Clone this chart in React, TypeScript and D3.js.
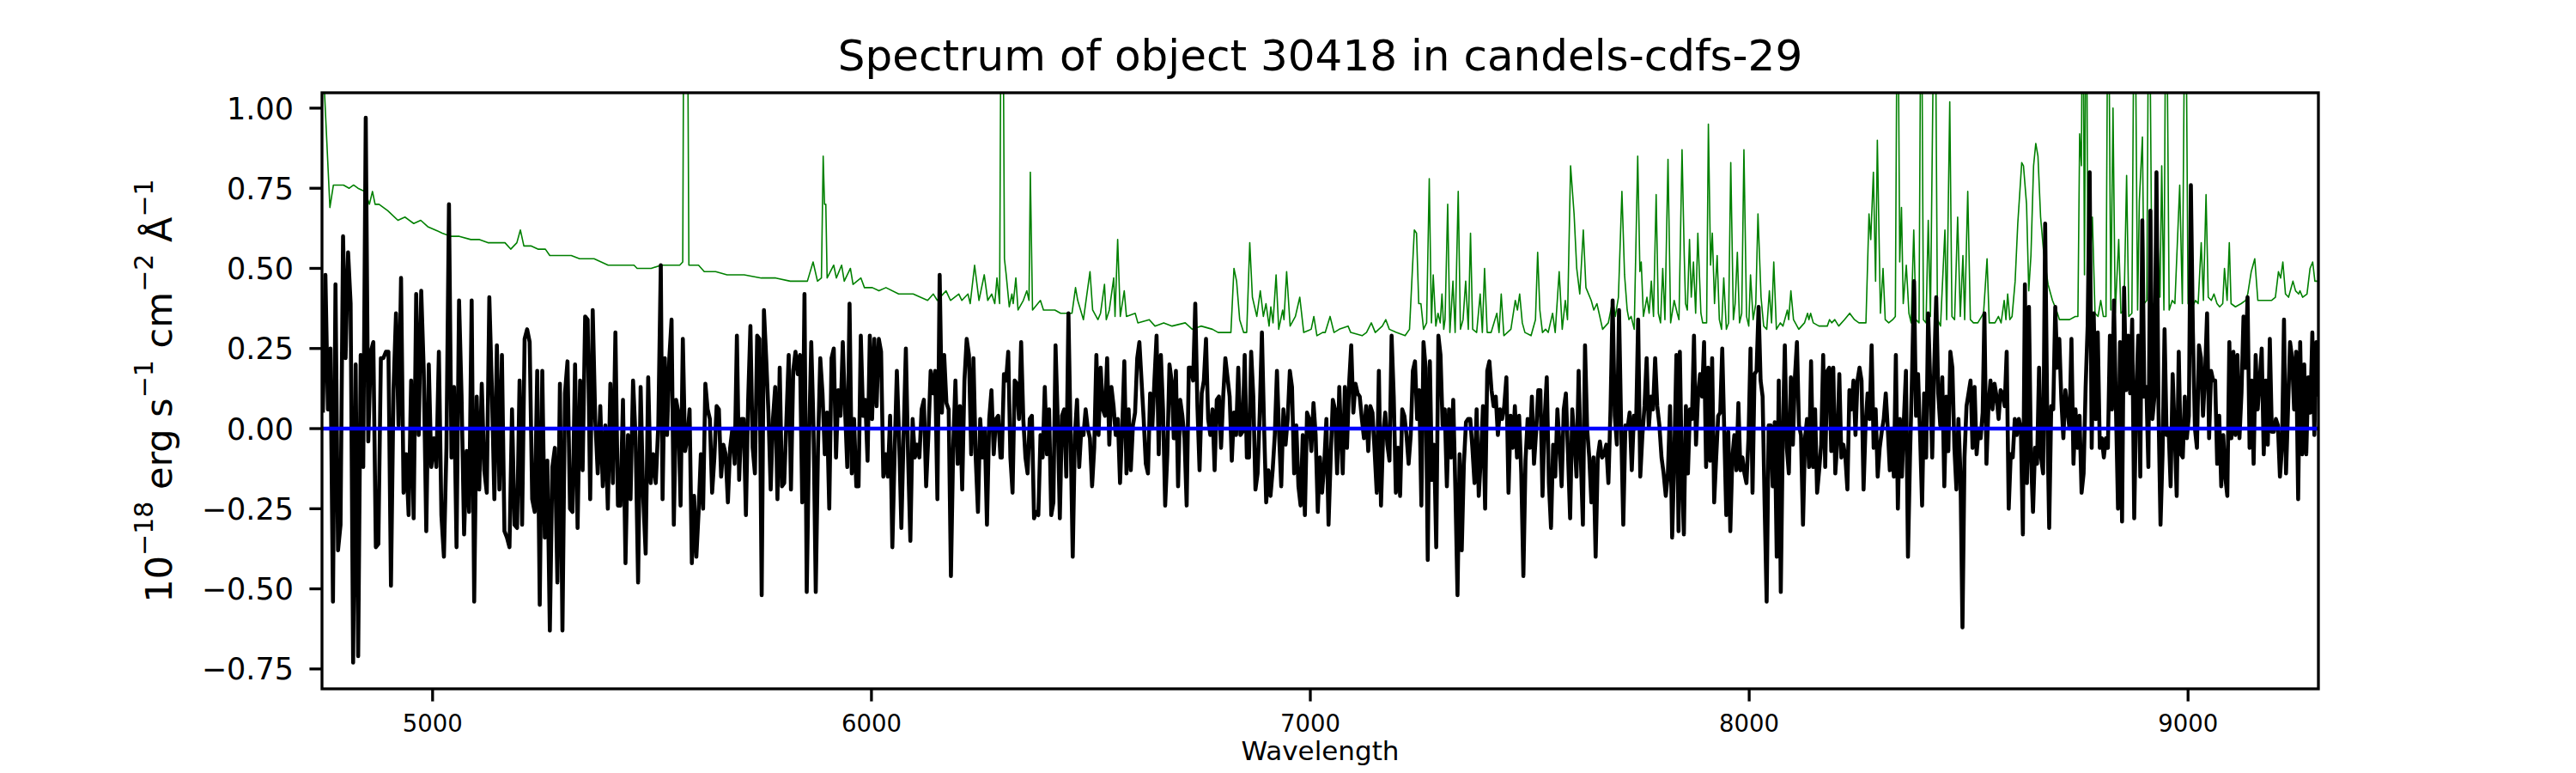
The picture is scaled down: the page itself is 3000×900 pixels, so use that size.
import * as d3 from 'd3'
import { useEffect, useRef } from 'react'

// canvas and plot box
const W = 3000
const H = 900
const plotBox = { left: 375, right: 2700, top: 108, bottom: 802 }

const xDomain = [4748, 9297]
const yDomain = [-0.812, 1.048]
const xTicks = [5000, 6000, 7000, 8000, 9000]
const yTicks = [-0.75, -0.5, -0.25, 0, 0.25, 0.5, 0.75, 1.0]

// observed flux, read in six stretches of wavelength (each stretch evenly sampled)
const fluxSegStart = [4750, 5524, 6297, 7069, 7842, 8536]
const fluxSegEnd = [5520, 6294, 7066, 7839, 8532, 9297]

const fluxA = [
  0.05, 0.48, 0.06, 0.25, -0.54, 0.45, -0.38, -0.3, 0.6, 0.22, 0.55, 0.39, -0.73, 0.2, -0.71, 0.23, -0.12, 0.97,
  -0.04, 0.24, 0.27, -0.37, -0.36, 0.22, 0.22, 0.24, 0.24, -0.49, 0.12, 0.36, 0.01, 0.47, -0.2, -0.08, -0.27, 0.15,
  -0.28, 0.42, -0.02, 0.43, 0.18, -0.32, 0.2, -0.12, -0.03, -0.12, 0.24, -0.27, -0.4, -0.06, 0.7, -0.09, 0.13, -0.37,
  0.4, 0.1, -0.33, -0.07, -0.26, 0.4, -0.54, 0.1, -0.19, 0.14, -0.13, -0.2, 0.41, 0.13, -0.22, 0.26, -0.19, 0.23,
  -0.32, -0.34, -0.37, 0.06, -0.3, -0.31, 0.15, -0.3, 0.28, 0.31, 0.27, -0.22, -0.26, 0.18, -0.55, 0.18, -0.34, -0.1,
  -0.63, -0.12, -0.06, -0.48, 0.14, -0.63, 0.11, 0.21, -0.25, -0.26, 0.2, -0.31, 0.15, -0.13, 0.35, 0.34, -0.22, 0.37,
  0.03, -0.14, 0.07, -0.18, 0.01, -0.25, 0.14, -0.17, 0.3, -0.24, -0.24, 0.09, -0.42, -0.02, -0.22, 0.15, -0.03, -0.48,
  0.13, -0.21, -0.39, 0.16, -0.17, -0.08, -0.17, 0.01, 0.51,
]
const fluxB = [
  -0.22, 0.22, -0.02, 0.22, 0.34, -0.3, 0.09, 0.05, -0.24, 0.28, -0.07, -0.03, 0.06, -0.42, -0.21, -0.4, -0.26, -0.08,
  -0.25, 0.14, 0.06, 0.03, -0.2, -0.09, 0.07, 0.06, -0.15, -0.05, -0.08, -0.23, -0.06, 0.0, -0.11, 0.29, -0.16, 0.03,
  0.03, -0.27, 0.09, 0.32, -0.06, -0.14, 0.29, 0.28, -0.52, 0.37, 0.22, 0.05, -0.19, 0.03, 0.13, -0.22, 0.19, -0.18,
  -0.17, 0.03, 0.23, -0.19, 0.18, 0.24, 0.17, 0.23, -0.23, 0.42, -0.51, -0.05, 0.27, 0.01, -0.51, -0.06, 0.22, 0.11,
  -0.08, 0.05, -0.25, 0.22, 0.25, -0.09, 0.12, 0.04, 0.27, 0.06, -0.12, 0.39, -0.14, 0.03, -0.18, -0.18, 0.29, 0.04,
  0.09, -0.1, 0.29, 0.03, 0.28, 0.07, 0.28, 0.24, -0.15, -0.08, -0.15, 0.04, -0.37, -0.08, 0.18, -0.03, -0.31, -0.02,
  0.25, -0.09, -0.35, 0.03, -0.09, -0.05, -0.09, 0.06, 0.09, -0.18, -0.02, 0.18, 0.11, 0.18, -0.22, 0.48, 0.05, 0.23,
  0.08, 0.06, -0.46, -0.06, 0.15, -0.11, 0.07, -0.19, 0.15, 0.28, 0.23, -0.08, 0.22, -0.09, -0.26, 0.03, -0.09, 0.0,
  -0.3, 0.03, 0.12, -0.08, 0.03, 0.04, -0.09,
]
const fluxC = [
  -0.09, 0.17, 0.15, 0.24, -0.09, -0.2, 0.15, 0.14, 0.03, 0.27, 0.03, -0.09, -0.14, 0.03, 0.04, -0.28, -0.26, -0.27,
  -0.02, -0.09, 0.13, -0.08, 0.06, -0.27, -0.23, 0.26, 0.03, -0.28, 0.04, 0.06, -0.15, 0.36, -0.02, -0.4, -0.02, 0.09,
  -0.12, 0.0, -0.02, 0.06, 0.0, -0.03, -0.18, -0.06, 0.23, -0.02, 0.19, 0.06, 0.04, 0.22, -0.05, 0.13, 0.07, -0.02,
  0.03, -0.17, 0.0, 0.21, -0.14, 0.06, -0.13, 0.01, 0.05, 0.22, 0.27, 0.15, 0.03, -0.11, -0.14, 0.11, 0.0, 0.15, 0.29,
  -0.08, 0.23, 0.06, -0.24, -0.08, 0.2, 0.15, -0.03, 0.18, -0.18, 0.09, 0.04, -0.03, -0.24, 0.19, 0.19, 0.15, 0.39,
  0.07, -0.13, 0.11, 0.15, 0.28, 0.03, -0.02, 0.06, -0.13, 0.09, 0.1, -0.06, 0.1, 0.22, 0.16, 0.1, -0.1, 0.05, -0.02,
  0.19, -0.02, -0.01, 0.23, -0.09, -0.09, 0.24, 0.1, -0.19, -0.14, 0.05, 0.3, 0.01, -0.23, -0.13, -0.21, -0.13, -0.02,
  0.18, -0.02, -0.18, 0.06, -0.05, 0.03, 0.18, 0.13, -0.14, 0.01, -0.18, -0.24, -0.02, -0.27, 0.05, 0.03, -0.07, 0.08,
  -0.02, -0.26, -0.09, -0.2, -0.11, 0.03, -0.3, -0.09, 0.09, 0.06, -0.14, 0.13,
]
const fluxD = [
  0.01, -0.14, 0.13, -0.06, 0.14, 0.26, 0.05, 0.14, 0.11, 0.1, 0.03, -0.03, 0.07, -0.07, 0.07, 0.05, -0.07, -0.2, 0.18,
  -0.24, -0.02, 0.05, -0.05, -0.1, 0.29, 0.1, -0.2, -0.06, -0.21, 0.06, 0.04, -0.02, -0.11, -0.02, 0.18, 0.21, 0.03,
  0.12, -0.24, 0.27, 0.19, -0.41, 0.21, -0.16, -0.05, -0.37, 0.29, 0.23, 0.01, 0.06, -0.18, 0.06, -0.09, 0.09, -0.19,
  -0.52, -0.08, -0.38, -0.11, 0.02, 0.03, 0.03, -0.06, -0.17, 0.06, -0.21, -0.09, 0.07, -0.25, 0.18, 0.21, 0.12, 0.07,
  0.1, -0.02, 0.06, 0.03, 0.07, 0.16, -0.2, 0.04, -0.06, 0.07, -0.09, 0.04, -0.14, -0.46, -0.1, 0.03, -0.06, 0.1,
  -0.11, -0.01, 0.12, 0.12, -0.21, 0.03, 0.16, -0.17, -0.31, -0.05, -0.15, 0.06, -0.05, -0.18, 0.06, 0.11, -0.08,
  -0.28, 0.06, -0.03, -0.15, 0.18, -0.09, -0.3, 0.26, 0.0, -0.09, -0.23, -0.09, -0.4, -0.09, -0.04, -0.09, -0.08,
  -0.05, -0.17, 0.06, 0.4, 0.04, -0.05, 0.37, 0.01, -0.3, 0.01, 0.0, 0.05, -0.13, 0.04, 0.0, 0.34, -0.15, -0.02, 0.07,
  0.22, 0.0, 0.1, 0.06, 0.22, 0.07, 0.01, -0.09, -0.14, -0.21, -0.14, 0.07, -0.34, -0.09, 0.23, -0.32,
]
const fluxE = [
  0.24, -0.14, -0.33, 0.07, -0.14, 0.06, 0.03, 0.29, -0.05, 0.1, 0.17, 0.1, 0.27, -0.12, 0.19, -0.1, 0.22, -0.23,
  -0.09, 0.04, 0.05, 0.25, -0.01, -0.27, -0.01, -0.32, -0.09, -0.02, -0.13, 0.08, -0.13, -0.09, -0.14, -0.17, -0.03,
  0.25, -0.2, 0.17, 0.18, 0.38, 0.15, 0.1, -0.24, -0.54, 0.01, 0.01, -0.18, 0.02, -0.4, 0.15, -0.51, -0.02, 0.26,
  -0.06, -0.14, 0.16, -0.05, 0.16, 0.27, 0.01, -0.02, -0.3, -0.03, 0.03, -0.12, 0.21, -0.12, 0.06, -0.2, -0.13, -0.05,
  0.23, -0.12, 0.18, 0.19, -0.07, 0.19, -0.14, -0.04, 0.17, -0.09, -0.05, -0.09, -0.19, 0.12, 0.06, 0.15, -0.02, 0.15,
  0.19, 0.15, -0.19, 0.01, 0.11, 0.03, 0.26, -0.06, 0.06, -0.15, -0.06, -0.01, 0.03, 0.11, 0.0, -0.13, 0.0, -0.15,
  0.23, -0.25, 0.03, -0.15, 0.03, 0.18, -0.4, -0.09, 0.16, 0.46, 0.04, 0.17, -0.02, -0.24, 0.11, -0.09, 0.36, 0.15,
  -0.09, 0.19, 0.41, 0.11, 0.01, 0.16, -0.18, 0.1, -0.07, 0.24, 0.19, -0.06, -0.19, 0.03, -0.14, -0.62, -0.09, 0.07,
  0.11, 0.15, -0.06, 0.13, -0.08, 0.0, -0.03, 0.05,
]
const fluxF = [
  0.36, -0.11, 0.07, 0.15, 0.06, 0.14, 0.1, 0.03, 0.12, 0.11, 0.07, 0.24, -0.25, -0.08, -0.09, 0.03, -0.02, 0.03, 0.0,
  -0.33, 0.45, -0.17, 0.38, -0.09, -0.26, -0.06, -0.11, 0.19, -0.09, -0.14, 0.64, 0.06, -0.31, 0.07, 0.06, 0.38, 0.19,
  0.28, 0.09, -0.03, 0.12, 0.06, 0.0, 0.28, -0.11, 0.06, -0.06, 0.04, -0.2, -0.14, 0.13, 0.32, 0.8, -0.06, 0.36, 0.03,
  0.3, -0.06, -0.03, -0.09, -0.03, -0.06, 0.29, 0.06, 0.4, 0.06, -0.25, 0.27, -0.29, 0.44, 0.12, 0.29, 0.11, 0.34,
  -0.28, 0.1, 0.29, -0.15, 0.65, 0.1, 0.13, -0.12, 0.68, 0.03, 0.1, 0.8, 0.06, -0.3, -0.08, 0.31, -0.02, 0.0, -0.18,
  0.17, -0.01, -0.21, 0.24, -0.08, -0.09, 0.1, -0.03, 0.04, 0.76, 0.3, 0.0, -0.06, 0.26, 0.22, 0.04, 0.17, 0.36, -0.03,
  0.18, 0.15, 0.15, -0.11, 0.04, -0.18, -0.02, -0.15, -0.21, 0.27, -0.03, 0.24, -0.02, 0.23, -0.03, 0.11, 0.35, 0.19,
  0.41, -0.06, 0.15, -0.11, 0.23, 0.06, 0.15, 0.25, -0.08, 0.15, -0.05, 0.28, -0.01, -0.01, 0.03, 0.01, -0.15, -0.06,
  0.34, -0.14, 0.06, 0.27, 0.22, 0.06, 0.24, -0.22, 0.27, -0.08, 0.2, -0.08, 0.16, 0.05, 0.3, -0.02, 0.27, 0.1,
]
const fluxSegments = [fluxA, fluxB, fluxC, fluxD, fluxE, fluxF]

// scaled sky spectrum (green), read at its breakpoints
const skyWave = [
  4748, 4752, 4766, 4774, 4787, 4797, 4810, 4820, 4830, 4846, 4856, 4863, 4869, 4878, 4898, 4921, 4937, 4957, 4973,
  4989, 5006, 5022, 5042, 5061, 5087, 5107, 5126, 5146, 5165, 5178, 5192, 5200, 5208, 5224, 5240, 5257, 5267, 5289,
  5316, 5335, 5368, 5400, 5433, 5459, 5466, 5498, 5521, 5547, 5563, 5570, 5573, 5580, 5584, 5606, 5619, 5645, 5671,
  5710, 5749, 5782, 5815, 5854, 5867, 5877, 5886, 5890, 5893, 5896, 5899, 5914, 5920, 5932, 5938, 5952, 5958, 5976,
  5984, 6002, 6017, 6033, 6062, 6095, 6128, 6141, 6150, 6170, 6180, 6199, 6206, 6220, 6225, 6235, 6245, 6257, 6265,
  6274, 6281, 6286, 6292, 6296, 6299, 6303, 6307, 6314, 6320, 6323, 6329, 6334, 6346, 6354, 6359, 6362, 6367, 6385,
  6392, 6418, 6431, 6457, 6465, 6470, 6483, 6498, 6504, 6516, 6522, 6531, 6535, 6542, 6552, 6555, 6561, 6567, 6576,
  6581, 6601, 6607, 6633, 6646, 6666, 6685, 6715, 6731, 6751, 6777, 6790, 6819, 6826, 6832, 6839, 6848, 6855, 6862,
  6868, 6878, 6886, 6893, 6899, 6906, 6910, 6915, 6922, 6928, 6937, 6940, 6946, 6954, 6966, 6976, 6985, 7002, 7008,
  7015, 7028, 7034, 7045, 7054, 7066, 7086, 7092, 7118, 7128, 7139, 7148, 7164, 7172, 7180, 7196, 7216, 7226, 7232,
  7237, 7242, 7247, 7252, 7258, 7265, 7271, 7276, 7280, 7286, 7291, 7296, 7300, 7304, 7307, 7313, 7318, 7325, 7330,
  7337, 7342, 7348, 7354, 7360, 7365, 7370, 7379, 7387, 7392, 7397, 7403, 7412, 7425, 7430, 7435, 7441, 7457, 7467,
  7472, 7477, 7483, 7489, 7503, 7513, 7518, 7523, 7529, 7536, 7542, 7552, 7558, 7567, 7574, 7581, 7586, 7593, 7601,
  7607, 7614, 7622, 7628, 7640, 7646, 7653, 7658, 7666, 7679, 7689, 7695, 7702, 7710, 7716, 7722, 7726, 7731, 7738,
  7746, 7751, 7754, 7759, 7767, 7772, 7777, 7782, 7788, 7793, 7798, 7803, 7808, 7815, 7821, 7829, 7836, 7840, 7847,
  7852, 7855, 7859, 7864, 7868, 7873, 7878, 7883, 7890, 7894, 7903, 7907, 7912, 7916, 7921, 7927, 7932, 7937, 7942,
  7948, 7953, 7958, 7964, 7968, 7973, 7978, 7983, 7988, 7994, 7999, 8003, 8009, 8015, 8020, 8027, 8033, 8040, 8046,
  8051, 8056, 8062, 8071, 8077, 8087, 8090, 8095, 8101, 8113, 8126, 8133, 8136, 8140, 8146, 8159, 8178, 8183, 8188,
  8195, 8204, 8217, 8229, 8240, 8250, 8266, 8273, 8277, 8283, 8288, 8292, 8299, 8305, 8310, 8318, 8327, 8333, 8338,
  8343, 8347, 8351, 8358, 8364, 8369, 8375, 8380, 8387, 8392, 8397, 8403, 8408, 8413, 8423, 8429, 8436, 8446, 8450,
  8457, 8462, 8468, 8475, 8481, 8487, 8491, 8498, 8504, 8511, 8521, 8534, 8542, 8547, 8560, 8568, 8574, 8581, 8585,
  8589, 8594, 8599, 8606, 8612, 8621, 8625, 8632, 8637, 8642, 8648, 8653, 8658, 8664, 8671, 8681, 8691, 8700, 8707,
  8717, 8730, 8743, 8749, 8753, 8757, 8760, 8764, 8768, 8772, 8777, 8782, 8788, 8795, 8801, 8807, 8813, 8818, 8824,
  8829, 8834, 8842, 8847, 8854, 8860, 8865, 8872, 8878, 8885, 8889, 8896, 8900, 8906, 8911, 8918, 8925, 8930, 8936,
  8940, 8945, 8950, 8957, 8964, 8970, 8981, 8987, 8994, 9000, 9007, 9017, 9023, 9030, 9035, 9041, 9046, 9053, 9059,
  9066, 9072, 9079, 9083, 9089, 9094, 9098, 9108, 9121, 9131, 9136, 9144, 9152, 9159, 9170, 9180, 9190, 9199, 9206,
  9211, 9216, 9222, 9229, 9239, 9245, 9252, 9255, 9261, 9271, 9278, 9284, 9289, 9297,
]
const skyFlux = [
  1.4, 1.1, 0.69, 0.76, 0.76, 0.76, 0.75, 0.76, 0.75, 0.74, 0.7, 0.74, 0.7, 0.7, 0.68, 0.65, 0.66, 0.64, 0.65, 0.63,
  0.62, 0.61, 0.6, 0.6, 0.59, 0.59, 0.58, 0.58, 0.58, 0.56, 0.58, 0.62, 0.57, 0.57, 0.56, 0.56, 0.54, 0.54, 0.54, 0.53,
  0.53, 0.51, 0.51, 0.51, 0.5, 0.5, 0.51, 0.51, 0.51, 0.52, 1.6, 1.6, 0.51, 0.51, 0.49, 0.49, 0.48, 0.48, 0.47, 0.47,
  0.46, 0.46, 0.52, 0.46, 0.47, 0.85, 0.7, 0.7, 0.47, 0.51, 0.47, 0.51, 0.46, 0.5, 0.45, 0.47, 0.44, 0.44, 0.43, 0.44,
  0.42, 0.42, 0.4, 0.42, 0.4, 0.43, 0.4, 0.42, 0.4, 0.42, 0.39, 0.51, 0.4, 0.48, 0.4, 0.42, 0.39, 0.47, 0.39, 1.6, 1.6,
  0.53, 0.48, 0.38, 0.42, 0.39, 0.47, 0.37, 0.4, 0.43, 0.4, 0.8, 0.37, 0.4, 0.37, 0.37, 0.36, 0.36, 0.44, 0.4, 0.34,
  0.49, 0.37, 0.34, 0.36, 0.45, 0.34, 0.37, 0.47, 0.35, 0.59, 0.35, 0.43, 0.35, 0.36, 0.33, 0.34, 0.32, 0.33, 0.32,
  0.33, 0.31, 0.32, 0.31, 0.3, 0.3, 0.5, 0.46, 0.34, 0.3, 0.3, 0.58, 0.41, 0.35, 0.43, 0.35, 0.39, 0.32, 0.38, 0.33,
  0.48, 0.31, 0.37, 0.34, 0.49, 0.32, 0.35, 0.41, 0.3, 0.31, 0.35, 0.29, 0.3, 0.3, 0.35, 0.3, 0.31, 0.32, 0.3, 0.29,
  0.3, 0.33, 0.3, 0.32, 0.34, 0.31, 0.3, 0.29, 0.31, 0.48, 0.62, 0.61, 0.39, 0.39, 0.31, 0.33, 0.78, 0.33, 0.48, 0.32,
  0.36, 0.33, 0.42, 0.31, 0.34, 0.7, 0.3, 0.46, 0.3, 0.74, 0.31, 0.34, 0.46, 0.31, 0.61, 0.31, 0.3, 0.42, 0.3, 0.5,
  0.3, 0.3, 0.36, 0.3, 0.42, 0.29, 0.31, 0.4, 0.37, 0.42, 0.33, 0.3, 0.29, 0.34, 0.55, 0.37, 0.3, 0.31, 0.3, 0.36,
  0.3, 0.49, 0.31, 0.4, 0.34, 0.82, 0.67, 0.5, 0.42, 0.62, 0.44, 0.4, 0.37, 0.39, 0.36, 0.31, 0.33, 0.4, 0.35, 0.41,
  0.74, 0.48, 0.37, 0.34, 0.35, 0.31, 0.85, 0.49, 0.52, 0.35, 0.41, 0.36, 0.46, 0.35, 0.73, 0.36, 0.33, 0.5, 0.34,
  0.84, 0.33, 0.4, 0.36, 0.34, 0.87, 0.54, 0.39, 0.37, 0.59, 0.41, 0.52, 0.36, 0.61, 0.36, 0.33, 0.33, 0.95, 0.51,
  0.61, 0.39, 0.54, 0.34, 0.31, 0.47, 0.31, 0.33, 0.83, 0.34, 0.39, 0.55, 0.33, 0.36, 0.87, 0.35, 0.32, 0.48, 0.34,
  0.39, 0.67, 0.41, 0.32, 0.31, 0.43, 0.33, 0.52, 0.31, 0.33, 0.32, 0.37, 0.34, 0.43, 0.34, 0.31, 0.33, 0.36, 0.34,
  0.36, 0.33, 0.32, 0.32, 0.34, 0.33, 0.34, 0.32, 0.34, 0.36, 0.34, 0.33, 0.33, 0.67, 0.59, 0.8, 0.46, 0.9, 0.36, 0.5,
  0.34, 0.33, 0.34, 0.35, 1.6, 0.52, 0.69, 0.39, 0.51, 0.36, 0.33, 0.62, 0.34, 0.33, 1.6, 0.34, 0.33, 0.65, 0.35, 1.6,
  0.34, 0.32, 0.62, 0.34, 1.02, 0.35, 0.34, 0.66, 0.35, 0.54, 0.34, 0.74, 0.34, 0.33, 0.33, 0.36, 0.53, 0.33, 0.33,
  0.35, 0.33, 0.4, 0.34, 0.42, 0.34, 0.35, 0.46, 0.64, 0.83, 0.82, 0.7, 0.43, 0.54, 0.82, 0.89, 0.85, 0.66, 0.55, 0.45,
  0.4, 0.37, 0.34, 0.34, 0.34, 0.35, 0.35, 0.92, 0.82, 1.6, 0.48, 1.6, 0.39, 0.52, 0.66, 0.36, 0.35, 0.4, 0.35, 0.35,
  1.6, 0.37, 1.0, 0.36, 0.59, 0.36, 0.37, 0.79, 0.35, 0.36, 1.6, 0.37, 0.71, 0.91, 0.39, 0.4, 1.6, 0.39, 0.39, 0.62,
  0.41, 0.82, 0.37, 1.6, 0.37, 0.4, 0.39, 0.76, 0.39, 1.6, 0.39, 0.37, 0.4, 0.39, 0.58, 0.4, 0.73, 0.41, 0.4, 0.42,
  0.39, 0.38, 0.39, 0.5, 0.4, 0.58, 0.39, 0.38, 0.39, 0.4, 0.42, 0.49, 0.53, 0.4, 0.4, 0.4, 0.4, 0.41, 0.49, 0.47,
  0.52, 0.42, 0.41, 0.46, 0.43, 0.42, 0.43, 0.41, 0.42, 0.5, 0.52, 0.46, 0.46,
]

const titleText = 'Spectrum of object 30418 in candels-cdfs-29'
const xLabelText = 'Wavelength'

export default function App() {
  const svgRef = useRef<SVGSVGElement>(null)

  useEffect(() => {
    const svg = d3.select(svgRef.current)
    svg.selectAll('*').remove()
    const font = "'DejaVu Sans', sans-serif"

    const x = d3.scaleLinear().domain(xDomain).range([plotBox.left, plotBox.right])
    const y = d3.scaleLinear().domain(yDomain).range([plotBox.bottom, plotBox.top])

    svg.append('rect').attr('width', W).attr('height', H).attr('fill', '#ffffff')

    svg
      .append('clipPath')
      .attr('id', 'plot-clip')
      .append('rect')
      .attr('x', plotBox.left)
      .attr('y', plotBox.top)
      .attr('width', plotBox.right - plotBox.left)
      .attr('height', plotBox.bottom - plotBox.top)

    const plot = svg.append('g').attr('clip-path', 'url(#plot-clip)')

    const line = d3
      .line<[number, number]>()
      .x((d) => x(d[0]))
      .y((d) => y(d[1]))

    // sky spectrum
    const skyPts = skyWave.map((w, i) => [w, skyFlux[i]] as [number, number])
    plot
      .append('path')
      .attr('d', line(skyPts))
      .attr('fill', 'none')
      .attr('stroke', '#008000')
      .attr('stroke-width', 1.6)
      .attr('stroke-linejoin', 'round')

    // object spectrum
    const fluxPts: [number, number][] = []
    fluxSegments.forEach((seg, s) => {
      const w = d3.scaleLinear().domain([0, seg.length - 1]).range([fluxSegStart[s], fluxSegEnd[s]])
      seg.forEach((v, i) => fluxPts.push([w(i), v]))
    })
    plot
      .append('path')
      .attr('d', line(fluxPts))
      .attr('fill', 'none')
      .attr('stroke', '#000000')
      .attr('stroke-width', 4.6)
      .attr('stroke-linejoin', 'round')

    // zero level
    plot
      .append('line')
      .attr('x1', plotBox.left)
      .attr('x2', plotBox.right)
      .attr('y1', y(0))
      .attr('y2', y(0))
      .attr('stroke', '#0000ff')
      .attr('stroke-width', 4.5)

    // frame
    svg
      .append('rect')
      .attr('x', plotBox.left)
      .attr('y', plotBox.top)
      .attr('width', plotBox.right - plotBox.left)
      .attr('height', plotBox.bottom - plotBox.top)
      .attr('fill', 'none')
      .attr('stroke', '#000000')
      .attr('stroke-width', 3.3)

    // x ticks
    const xg = svg.append('g')
    xTicks.forEach((t) => {
      xg.append('line')
        .attr('x1', x(t))
        .attr('x2', x(t))
        .attr('y1', plotBox.bottom)
        .attr('y2', plotBox.bottom + 14.6)
        .attr('stroke', '#000000')
        .attr('stroke-width', 3.3)
      xg.append('text')
        .attr('x', x(t))
        .attr('y', 852)
        .attr('text-anchor', 'middle')
        .attr('font-family', font)
        .attr('font-size', 27.5)
        .text(String(t))
    })

    // y ticks
    const fmt = d3.format('.2f')
    const yg = svg.append('g')
    yTicks.forEach((t) => {
      yg.append('line')
        .attr('x1', plotBox.left - 14.6)
        .attr('x2', plotBox.left)
        .attr('y1', y(t))
        .attr('y2', y(t))
        .attr('stroke', '#000000')
        .attr('stroke-width', 3.3)
      yg.append('text')
        .attr('x', 342)
        .attr('y', y(t))
        .attr('dy', '0.36em')
        .attr('text-anchor', 'end')
        .attr('font-family', font)
        .attr('font-size', 35)
        .text(fmt(t))
    })

    // title
    svg
      .append('text')
      .attr('x', (plotBox.left + plotBox.right) / 2)
      .attr('y', 82)
      .attr('text-anchor', 'middle')
      .attr('font-family', font)
      .attr('font-size', 50)
      .text(titleText)

    // x label
    svg
      .append('text')
      .attr('x', (plotBox.left + plotBox.right) / 2)
      .attr('y', 885)
      .attr('text-anchor', 'middle')
      .attr('font-family', font)
      .attr('font-size', 31)
      .text(xLabelText)

    // y label with superscripts
    const yl = svg
      .append('text')
      .attr('transform', `translate(200,${(plotBox.top + plotBox.bottom) / 2}) rotate(-90)`)
      .attr('text-anchor', 'middle')
      .attr('font-family', font)
      .attr('font-size', 43)
    const parts: [string, boolean][] = [
      ['10', false],
      ['\u221218', true],
      [' erg s', false],
      ['\u22121', true],
      [' cm', false],
      ['\u22122', true],
      [' \u00c5', false],
      ['\u22121', true],
    ]
    parts.forEach(([txt, sup], i) => {
      const ts = yl.append('tspan').text(txt)
      if (sup) ts.attr('dy', -22).attr('font-size', 30)
      else if (i > 0) ts.attr('dy', 22)
    })
  }, [])

  return (
    <svg
      ref={svgRef}
      width={W}
      height={H}
      style={{ position: 'absolute', left: 0, top: 0, display: 'block' }}
    />
  )
}
